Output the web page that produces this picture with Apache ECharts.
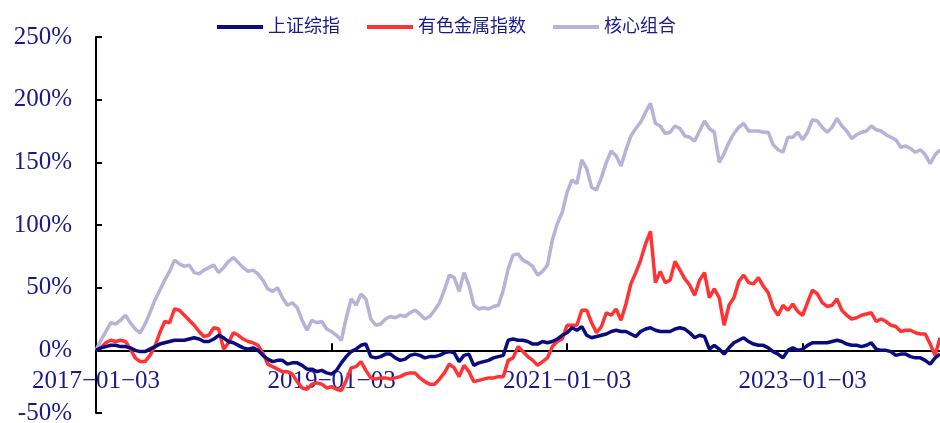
<!DOCTYPE html>
<html>
<head>
<meta charset="utf-8">
<title>上证综指 / 有色金属指数 / 核心组合</title>
<script src="https://cdn.jsdelivr.net/npm/echarts@6/dist/echarts.min.js"></script>
<style>
  html, body { margin: 0; padding: 0; background: #fff; }
  #chart { width: 940px; height: 423px; }
</style>
</head>
<body>
<div id="chart"></div>
<script>
// 半月取样：每月 03 日、17 日
const dates = [];
for (let y = 2017; y <= 2024; y++) {
  for (let m = 1; m <= 12; m++) {
    const mm = String(m).padStart(2, '0');
    dates.push(`${y}-${mm}-03`, `${y}-${mm}-17`);
  }
}
dates.length = 173; // 截止 2024-03-03

const labelDates = ['2017-01-03', '2019-01-03', '2021-01-03', '2023-01-03'];

// 累计收益率 (%)
const shIndex = [
  0, 2, 3, 4, 4, 3, 3, 2, 0, -1, -1, 1, 3, 5, 6, 7, 8, 8, 8, 9,
  10, 9, 7, 7, 9, 12, 10, 7, 6, 4, 2, 1, 2, 0, -4, -7, -9, -8, -8, -11,
  -10, -10, -12, -15, -15, -17, -16, -18, -19, -16, -10, -5, -1, 1, 4, 5, -5, -6, -5, -3,
  -3, -6, -8, -7, -4, -3, -4, -6, -5, -5, -4, -2, -1, -2, -9, -4, -3, -12, -10, -9,
  -8, -6, -5, -4, 8, 9, 8, 8, 7, 5, 5, 7, 6, 7, 9, 12, 14, 18, 16, 19,
  12, 10, 11, 12, 13, 15, 16, 15, 15, 13, 11, 15, 17, 18, 16, 15, 15, 15, 17, 18,
  17, 14, 10, 12, 11, 1, 4, 1, -3, 2, 6, 8, 10, 7, 5, 4, 4, 2, -1, -3,
  -6, 0, 2, 0, 1, 4, 6, 6, 6, 6, 7, 8, 7, 5, 4, 4, 3, 4, 6, 1,
  0, 0, -1, -4, -3, -3, -5, -6, -6, -8, -11, -6, -3
];

const metalIndex = [
  0, 2, 6, 8, 7, 8, 7, 1, -6, -9, -9, -4, 3, 14, 23, 22, 33, 32, 28, 24,
  20, 15, 11, 12, 18, 17, 1, 6, 14, 12, 9, 7, 6, 4, -2, -11, -13, -15, -17, -17,
  -19, -25, -30, -31, -27, -26, -27, -30, -29, -31, -32, -24, -14, -13, -9, -16, -22, -23, -22, -22,
  -23, -22, -21, -19, -18, -18, -22, -25, -27, -27, -23, -18, -11, -14, -21, -12, -17, -25, -24, -23,
  -22, -22, -21, -21, -8, -6, 3, -1, -5, -8, -12, -9, -6, 3, 7, 9, 20, 20, 20, 32,
  32, 22, 14, 19, 30, 28, 33, 24, 37, 53, 62, 72, 85, 95, 54, 63, 54, 56, 71, 64,
  57, 52, 44, 56, 62, 42, 49, 42, 20, 36, 42, 55, 60, 54, 53, 58, 51, 46, 34, 28,
  36, 32, 37, 31, 28, 38, 48, 45, 38, 35, 36, 41, 32, 28, 25, 26, 28, 29, 30, 23,
  25, 23, 20, 19, 15, 16, 16, 14, 13, 13, 5, -4, 10
];

const corePortfolio = [
  0, 8, 15, 22, 21, 24, 28, 22, 17, 14, 21, 30, 40, 48, 56, 63, 72, 69, 67, 68,
  62, 61, 64, 66, 68, 62, 66, 71, 74, 70, 66, 63, 64, 61, 56, 49, 47, 50, 42, 36,
  38, 34, 24, 16, 24, 22, 23, 17, 15, 12, 8, 26, 41, 36, 45, 41, 25, 20, 21, 25,
  27, 26, 28, 27, 30, 32, 29, 25, 27, 32, 38, 48, 60, 58, 47, 62, 52, 36, 33, 34,
  33, 35, 36, 48, 65, 76, 77, 72, 70, 67, 60, 63, 68, 88, 101, 110, 126, 136, 133, 152,
  145, 130, 128, 138, 150, 159, 155, 147, 160, 171, 177, 182, 190, 197, 181, 179, 173, 174, 179, 177,
  171, 170, 167, 175, 183, 177, 174, 150, 157, 166, 173, 178, 181, 175, 175, 175, 174, 174, 164, 160,
  158, 170, 170, 174, 168, 174, 184, 183, 178, 174, 178, 185, 179, 175, 169, 172, 174, 175, 179, 176,
  175, 172, 170, 168, 162, 163, 161, 158, 160, 156, 149, 156, 160
];

const TEXT = '#1a1a8a';
const SERIF = "'Liberation Serif', 'Noto Sans CJK SC', serif";
const showLabel = (i, v) => labelDates.includes(v);

const chart = echarts.init(document.getElementById('chart'), null, { renderer: 'canvas' });

chart.setOption({
  animation: false,
  backgroundColor: '#fff',
  legend: {
    left: 212,
    top: 13,
    icon: 'rect',
    itemWidth: 46,
    itemHeight: 4,
    itemGap: 27,
    textStyle: { color: TEXT, fontSize: 18, fontFamily: SERIF },
  },
  grid: { left: 96, right: 0, top: 37, bottom: 10, outerBoundsMode: 'none' },
  xAxis: {
    type: 'category',
    boundaryGap: false,
    data: dates,
    axisLine: { onZero: true, lineStyle: { color: '#000', width: 2 } },
    axisTick: { inside: true, length: 7, interval: showLabel, lineStyle: { color: '#000', width: 2 } },
    axisLabel: {
      interval: showLabel,
      margin: -44, // v6 把标签留在网格底边，负边距拉回到 0 轴下方
      fontSize: 25,
      fontFamily: SERIF,
      color: TEXT,
      formatter: (v) => v.replace(/-/g, '\u2212'),
    },
    splitLine: { show: false },
  },
  yAxis: {
    type: 'value',
    min: -50,
    max: 250,
    interval: 50,
    axisLine: { show: true, lineStyle: { color: '#000', width: 2 } },
    axisTick: { show: true, inside: true, length: 6, lineStyle: { color: '#000', width: 2 } },
    axisLabel: { margin: 24, fontSize: 25, fontFamily: SERIF, color: TEXT, formatter: '{value}%' },
    splitLine: { show: false },
  },
  series: [
    {
      name: '上证综指',
      type: 'line',
      data: shIndex,
      symbol: 'none',
      color: '#0b0b80',
      lineStyle: { width: 3.5 },
      z: 4,
    },
    {
      name: '有色金属指数',
      type: 'line',
      data: metalIndex,
      symbol: 'none',
      color: '#ff3333',
      lineStyle: { width: 3.5 },
      z: 3,
    },
    {
      name: '核心组合',
      type: 'line',
      data: corePortfolio,
      symbol: 'none',
      color: '#b6b2d8',
      lineStyle: { width: 3.5 },
      z: 2,
    },
  ],
});
</script>
</body>
</html>
